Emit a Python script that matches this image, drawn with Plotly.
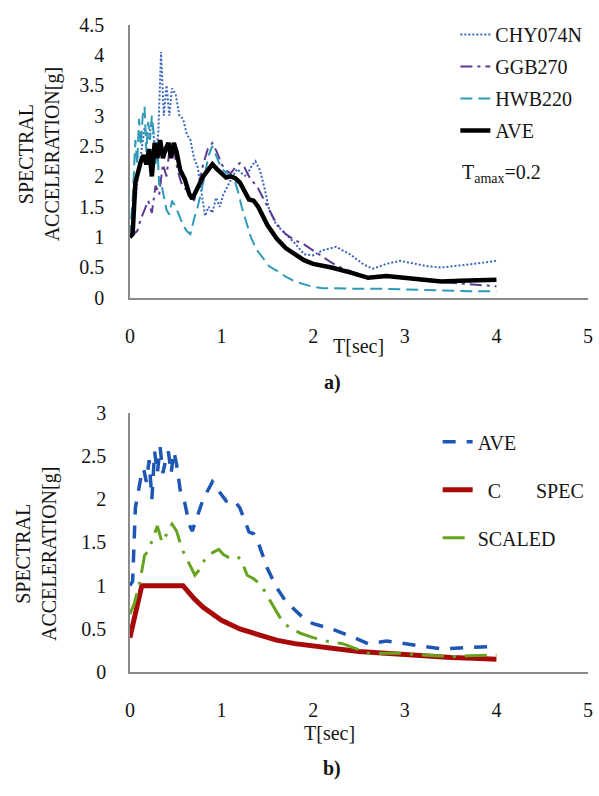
import plotly.graph_objects as go

# ---------------- data: panel a) ----------------
T_chy = [0, 0.04, 0.08, 0.12, 0.16, 0.2, 0.24, 0.28, 0.31, 0.34, 0.37, 0.4, 0.43, 0.46, 0.5, 0.54,
         0.58, 0.62, 0.66, 0.7, 0.74, 0.78, 0.82, 0.86, 0.9, 0.94, 0.98, 1.02, 1.07, 1.12, 1.17, 1.22,
         1.27, 1.32, 1.37, 1.42, 1.47, 1.52, 1.6, 1.7, 1.8, 1.9, 2.0, 2.1, 2.25, 2.4, 2.55, 2.65, 2.8,
         2.95, 3.1, 3.25, 3.4, 3.55, 3.7, 3.85, 4.0]
S_chy = [1.0, 1.3, 1.9, 2.4, 2.8, 2.6, 2.9, 2.4, 2.7, 4.05, 3.0, 3.5, 3.0, 3.45, 3.35, 3.0,
         2.95, 2.7, 2.6, 2.3, 2.15, 1.75, 1.35, 1.5, 1.4, 1.65, 1.5, 1.7, 1.85, 2.0, 2.12, 2.05,
         2.0, 2.15, 2.25, 2.1, 1.8, 1.45, 1.2, 1.05, 0.9, 0.72, 0.7, 0.78, 0.84, 0.72, 0.55, 0.48, 0.56,
         0.61, 0.56, 0.52, 0.5, 0.52, 0.55, 0.58, 0.61]

T_ggb = [0, 0.04, 0.08, 0.12, 0.16, 0.2, 0.24, 0.28, 0.32, 0.36, 0.4, 0.44, 0.48, 0.52, 0.56, 0.6,
         0.65, 0.7, 0.75, 0.8, 0.85, 0.9, 0.95, 1.0, 1.05, 1.1, 1.15, 1.2, 1.25, 1.3, 1.4, 1.5, 1.6,
         1.7, 1.8, 1.9, 2.0, 2.1, 2.2, 2.3, 2.45, 2.6, 2.75, 2.9, 3.05, 3.2, 3.4, 3.6, 3.8, 4.0]
S_ggb = [1.0, 1.05, 1.1, 1.3, 1.45, 1.6, 1.4, 1.85, 1.7, 2.2, 2.0, 2.55, 2.45, 2.1, 1.9, 1.8,
         1.75, 1.6, 1.85, 2.2, 2.45, 2.55, 2.4, 2.2, 2.1, 2.05, 2.15, 2.22, 2.15, 2.0, 1.8, 1.5, 1.22,
         1.05, 0.95, 0.88, 0.78, 0.67, 0.58, 0.5, 0.42, 0.34, 0.36, 0.33, 0.31, 0.28, 0.26, 0.24, 0.22, 0.19]

T_hwb = [0, 0.03, 0.06, 0.08, 0.1, 0.12, 0.14, 0.16, 0.18, 0.2, 0.22, 0.24, 0.26, 0.28, 0.3, 0.32,
         0.34, 0.37, 0.4, 0.43, 0.46, 0.5, 0.54, 0.58, 0.62, 0.66, 0.7, 0.74, 0.78, 0.82, 0.86, 0.9,
         0.94, 0.98, 1.02, 1.06, 1.1, 1.14, 1.18, 1.22, 1.27, 1.32, 1.38, 1.45, 1.52, 1.6, 1.7, 1.8,
         1.9, 2.0, 2.1, 2.3, 2.5, 2.7, 2.9, 3.1, 3.3, 3.5, 3.7, 3.9, 4.0]
S_hwb = [1.0, 1.6, 2.6, 2.2, 2.95, 2.5, 3.0, 3.15, 2.4, 2.9, 2.6, 3.0, 2.7, 2.2, 2.5, 1.85,
         1.9, 1.7, 1.45, 1.37, 1.6, 1.5, 1.35, 1.2, 1.1, 1.05, 1.3, 1.5, 1.75, 2.05, 2.35, 2.5,
         2.35, 2.2, 2.1, 2.05, 2.0, 1.95, 1.75, 1.5, 1.25, 1.0, 0.8, 0.65, 0.52, 0.45, 0.35, 0.27,
         0.22, 0.18, 0.16, 0.15, 0.15, 0.15, 0.14, 0.13, 0.12, 0.12, 0.11, 0.11, 0.11]

T_ave = [0, 0.03, 0.06, 0.09, 0.12, 0.15, 0.18, 0.21, 0.24, 0.27, 0.3, 0.33, 0.36, 0.39, 0.42, 0.45,
         0.48, 0.51, 0.55, 0.6, 0.65, 0.68, 0.72, 0.76, 0.8, 0.85, 0.9, 0.95, 1.0, 1.05, 1.1, 1.15,
         1.2, 1.25, 1.3, 1.35, 1.4, 1.5, 1.6, 1.7, 1.8, 1.9, 2.0, 2.2, 2.4, 2.6, 2.8, 3.0, 3.2, 3.4,
         3.6, 3.8, 4.0]
S_ave = [1.0, 1.05, 1.9, 2.1, 2.25, 2.35, 2.2, 2.45, 2.0, 2.55, 2.3, 2.6, 2.3, 2.45, 2.55, 2.3,
         2.55, 2.4, 2.1, 1.95, 1.7, 1.63, 1.75, 1.9, 2.0, 2.1, 2.2, 2.12, 2.05, 1.98, 2.0, 1.97,
         1.9, 1.75, 1.62, 1.6, 1.5, 1.2, 0.98, 0.82, 0.72, 0.62, 0.56, 0.5, 0.42, 0.33, 0.36, 0.33, 0.29,
         0.27, 0.28, 0.29, 0.3]

# ---------------- data: panel b) ----------------
T_code = [0, 0.13, 0.58, 0.7, 0.8, 0.9, 1.0, 1.2, 1.4, 1.6, 1.8, 2.0, 2.25, 2.5, 2.75, 3.0, 3.25,
          3.5, 3.75, 4.0]
S_code = [0.4, 1.0, 1.0, 0.85, 0.75, 0.68, 0.6, 0.5, 0.43, 0.37, 0.33, 0.3, 0.27, 0.24, 0.22, 0.2,
          0.185, 0.17, 0.16, 0.15]

T_sc = [0, 0.05, 0.11, 0.16, 0.2, 0.25, 0.3, 0.35, 0.39, 0.43, 0.46, 0.51, 0.57, 0.64, 0.71, 0.77,
        0.82, 0.9, 0.97, 1.02, 1.07, 1.14, 1.21, 1.28, 1.35, 1.43, 1.53, 1.6, 1.68, 1.77, 1.86, 2.0,
        2.14, 2.32, 2.45, 2.6, 2.79, 2.95, 3.14, 3.3, 3.5, 3.7, 3.9, 4.0]
S_sc = [0.67, 0.8, 1.05, 1.35, 1.4, 1.54, 1.69, 1.5, 1.57, 1.65, 1.71, 1.63, 1.42, 1.27, 1.12, 1.2,
        1.31, 1.38, 1.42, 1.36, 1.33, 1.35, 1.31, 1.12, 1.08, 1.01, 0.82, 0.7, 0.56, 0.5, 0.45, 0.4,
        0.36, 0.33, 0.28, 0.22, 0.22, 0.22, 0.2, 0.19, 0.18, 0.19, 0.2, 0.2]

x_ticks = [0, 1, 2, 3, 4, 5]

SERIF = "Liberation Serif, Times New Roman, serif"
TXT = "#141414"
W, H = 599, 796

fig = go.Figure()

# panel a)
fig.add_trace(go.Scatter(x=T_chy, y=S_chy, mode="lines", name="CHY074N", legendgroup="a1",
                         line=dict(color="#3A66BC", width=2, dash="2px,2px"), xaxis="x", yaxis="y"))
fig.add_trace(go.Scatter(x=T_ggb, y=S_ggb, mode="lines", name="GGB270", legendgroup="a2",
                         line=dict(color="#5E3A92", width=2, dash="12px,5px,3px,5px"), xaxis="x", yaxis="y"))
fig.add_trace(go.Scatter(x=T_hwb, y=S_hwb, mode="lines", name="HWB220", legendgroup="a3",
                         line=dict(color="#2F9BB8", width=2, dash="12px,6px"), xaxis="x", yaxis="y"))
fig.add_trace(go.Scatter(x=T_ave, y=S_ave, mode="lines", name="AVE", legendgroup="a4",
                         line=dict(color="#000000", width=4.5), xaxis="x", yaxis="y"))

# panel b)
fig.add_trace(go.Scatter(x=T_ave, y=S_ave, mode="lines", name="AVE", legend="legend2", legendgroup="b1",
                         line=dict(color="#1E56B4", width=3.5, dash="13px,11px"), xaxis="x2", yaxis="y2"))
fig.add_trace(go.Scatter(x=T_code, y=S_code, mode="lines",
                         name="\u00a0\u00a0C\u00a0\u00a0\u00a0\u00a0\u00a0\u00a0\u00a0SPEC",
                         legend="legend2", legendgroup="b2",
                         line=dict(color="#A80A0A", width=5), xaxis="x2", yaxis="y2"))
fig.add_trace(go.Scatter(x=T_sc, y=S_sc, mode="lines", name="SCALED", legend="legend2", legendgroup="b3",
                         line=dict(color="#66A420", width=3, dash="22px,9px,3px,9px"), xaxis="x2", yaxis="y2"))

axis_common = dict(showline=True, linecolor="#8a8a8a", linewidth=1.5, showgrid=False, zeroline=False,
                   ticks="", tickfont=dict(family=SERIF, size=20, color=TXT))

xdom = [127 / W, 593 / W]
fig.update_layout(
    width=W, height=H,
    margin=dict(l=0, r=0, t=0, b=0),
    paper_bgcolor="white", plot_bgcolor="white",
    font=dict(family=SERIF, size=20, color=TXT),
    xaxis=dict(domain=xdom, range=[0, 5], tickvals=x_ticks, anchor="y", ticklabelstandoff=19, **axis_common),
    yaxis=dict(domain=[1 - 295 / H, 1 - 14 / H], range=[0, 4.5], dtick=0.5, anchor="x",
               ticklabelstandoff=20, **axis_common),
    xaxis2=dict(domain=xdom, range=[0, 5], tickvals=x_ticks, anchor="y2", ticklabelstandoff=19, **axis_common),
    yaxis2=dict(domain=[1 - 680 / H, 1 - 413 / H], range=[0, 3], dtick=0.5, anchor="x2",
                ticklabelstandoff=18, **axis_common),
    legend=dict(x=458 / W, y=1 - 4 / H, xanchor="left", yanchor="top", bgcolor="rgba(0,0,0,0)",
                font=dict(family=SERIF, size=20, color=TXT), traceorder="grouped", tracegroupgap=3),
    legend2=dict(x=440 / W, y=1 - 423 / H, xanchor="left", yanchor="top", bgcolor="rgba(0,0,0,0)",
                 font=dict(family=SERIF, size=20, color=TXT), traceorder="grouped", tracegroupgap=19),
    showlegend=True,
)

ann = [
    dict(text="SPECTRAL<br>ACCELERATION[g]", x=36 / W, y=1 - 147 / H, textangle=-90),
    dict(text="SPECTRAL<br>ACCELERATION[g]", x=32 / W, y=1 - 558 / H, textangle=-90),
    dict(text="T[sec]", x=360 / W, y=1 - 345 / H),
    dict(text="T[sec]", x=330 / W, y=1 - 743 / H),
    dict(text="<b>a)</b>", x=333 / W, y=1 - 382 / H),
    dict(text="<b>b)</b>", x=333 / W, y=1 - 779 / H),
    dict(text="T<sub>amax</sub>=0.2", x=505 / W, y=1 - 167 / H),
]
for a in ann:
    fig.add_annotation(xref="paper", yref="paper", showarrow=False, xanchor="center", yanchor="middle",
                       font=dict(family=SERIF, size=20, color=TXT), **a)

fig.write_html("out.html")
